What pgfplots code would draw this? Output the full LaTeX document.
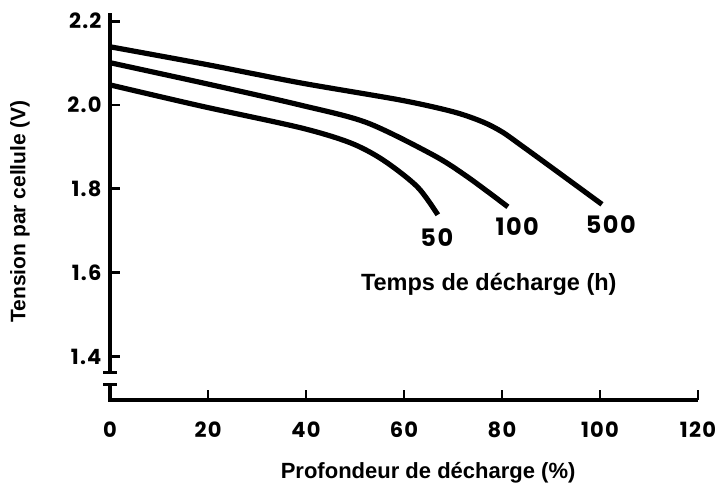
\documentclass[border=0pt]{standalone}
\usepackage{fontspec}
\setmainfont{Liberation Sans}
\newfontfamily\geo{Poppins}[LetterSpace=6]
\usepackage{pgfplots}
\pgfplotsset{compat=1.18}
\begin{document}
\begin{tikzpicture}
\path (0,0) rectangle (722bp,490bp);
\begin{axis}[
  at={(110bp,90bp)}, anchor=south west,
  x=4.9bp, y=419bp,
  xmin=0, xmax=120, ymin=1.296, ymax=2.215,
  clip=false,
  axis x line=bottom, axis y line=left,
  axis line style={draw=none},
  xtick={0,20,...,120}, ytick={1.4,1.6,1.8,2.0,2.2},
  tick align=inside, major tick length=10bp,
  every tick/.style={line width=2.8bp, black},
  /pgf/number format/assume math mode=true,
  yticklabel style={/pgf/number format/.cd, fixed, fixed zerofill, precision=1, /tikz/.cd, font=\geo\bfseries\fontsize{21bp}{21bp}\selectfont, xshift=-5bp},
  xticklabel style={font=\geo\bfseries\fontsize{21bp}{21bp}\selectfont, yshift=-18bp},
  xlabel={Profondeur de décharge (\%)},
  ylabel={Tension par cellule (V)},
  xlabel style={font=\bfseries\fontsize{22bp}{22bp}\selectfont, at={(axis description cs:0.541,-0.19)}, anchor=center},
  ylabel style={font=\bfseries\fontsize{21bp}{21bp}\selectfont, at={(axis description cs:-0.153,0.49)}, anchor=center},
]
\addplot[line width=5.2bp, smooth, tension=0.5] coordinates {(0,2.139)(20,2.096)(38.8,2.053)(59.2,2.012)(70,1.984)(76,1.960)(80,1.936)(84,1.903)(90,1.852)(100.4,1.763)};
\addplot[line width=5.2bp, smooth, tension=0.5] coordinates {(0,2.101)(20,2.050)(38.8,2.000)(52.4,1.958)(65.9,1.881)(72.9,1.829)(81.2,1.757)};
\addplot[line width=5.2bp, smooth, tension=0.5] coordinates {(0,2.048)(18.4,1.998)(38.8,1.946)(49.0,1.910)(55.7,1.869)(62.7,1.805)(66.9,1.738)};
\node[font=\geo\bfseries\fontsize{24bp}{24bp}\selectfont] at (axis cs:66.7,1.684) {50};
\node[font=\geo\bfseries\fontsize{24bp}{24bp}\selectfont] at (axis cs:83.1,1.709) {100};
\node[font=\geo\bfseries\fontsize{24bp}{24bp}\selectfont] at (axis cs:102.2,1.714) {500};
\node[font=\bfseries\fontsize{23.5bp}{23.5bp}\selectfont] at (axis cs:77.3,1.571) {Temps de décharge (h)};
\coordinate (top) at (axis cs:0,2.215);
\coordinate (org) at (axis cs:0,1.296);
\coordinate (xend) at (axis cs:120,1.296);
\coordinate (bu) at (axis cs:0,1.361);
\coordinate (bl) at (axis cs:0,1.332);
\end{axis}
\draw[line width=3.2bp, line cap=rect] (top) -- (bu);
\draw[line width=3.2bp, line join=miter] (bl) -- (org) -- (xend);
\draw[line width=3bp] ([xshift=-7bp]bu) -- ([xshift=7bp]bu);
\draw[line width=3bp] ([xshift=-7bp]bl) -- ([xshift=7bp]bl);
\end{tikzpicture}
\end{document}
